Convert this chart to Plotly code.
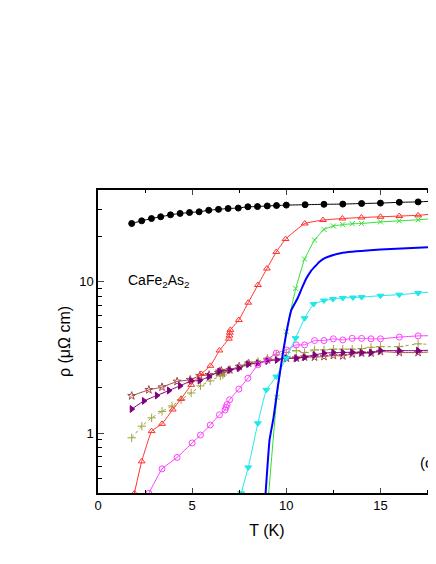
import plotly.graph_objects as go

# black, filled circles
t_black = [1.79, 2.32, 2.84, 3.33, 3.85, 4.36, 4.86, 5.37, 5.88, 6.40, 6.91, 7.45, 7.96, 8.47, 8.99, 9.48, 10.0, 11.0, 12.0, 13.0, 14.0, 15.0, 16.0, 17.0, 18.0]
r_black = [24.2, 25.2, 26.1, 26.8, 27.6, 28.2, 28.6, 28.9, 29.6, 30.0, 30.4, 30.6, 31.2, 31.3, 31.6, 31.8, 32.0, 32.2, 32.4, 32.5, 32.8, 33.0, 33.4, 33.6, 34.1]

# red, open triangles
t_red = [1.93, 2.32, 2.85, 3.40, 3.97, 4.41, 4.95, 5.48, 5.97, 6.45, 6.95, 6.98, 7.0, 7.03, 7.48, 7.98, 8.49, 8.97, 9.47, 9.96, 10.98, 11.95, 12.98, 13.99, 15.0, 16.0, 17.0, 18.0]
r_red = [0.40, 0.65, 1.03, 1.15, 1.43, 1.68, 2.08, 2.46, 2.78, 3.51, 4.2, 4.4, 4.6, 4.8, 5.58, 7.26, 9.5, 12.2, 15.7, 19.1, 24.2, 25.5, 26.1, 26.5, 26.8, 27.1, 27.4, 28.1]

# green, x markers
t_green = [9.05, 9.5, 10.0, 10.5, 10.97, 11.5, 12.0, 12.5, 13.0, 13.5, 14.0, 15.0, 16.0, 17.0, 18.0]
r_green = [0.38, 1.72, 4.67, 9.0, 14.1, 18.8, 22.1, 23.3, 23.8, 24.1, 24.2, 24.8, 25.2, 25.6, 26.2]

# blue, solid line
t_blue = [8.9, 9.11, 9.32, 9.55, 9.79, 10.0, 10.27, 10.6, 10.85, 11.06, 11.3, 11.5, 11.75, 12.04, 12.5, 13.0, 15.0, 18.0]
r_blue = [0.40, 0.90, 1.26, 2.03, 3.2, 4.56, 6.5, 7.76, 9.2, 10.5, 11.7, 12.5, 13.5, 14.3, 15.0, 15.5, 16.3, 17.0]

# cyan, filled down triangles
t_cyan = [7.6, 7.98, 8.49, 8.94, 9.47, 10.0, 10.49, 10.97, 11.45, 12.0, 12.48, 13.0, 13.54, 14.0, 15.0, 16.0, 17.0, 18.0]
r_cyan = [0.40, 0.593, 1.16, 1.93, 2.36, 3.12, 4.23, 5.73, 7.11, 7.5, 7.67, 7.8, 7.85, 7.9, 8.07, 8.2, 8.4, 8.6]

# magenta, open circles
t_mag = [2.7, 3.4, 4.2, 5.0, 5.44, 5.96, 6.45, 6.75, 6.8, 6.85, 6.99, 7.48, 7.96, 8.49, 8.99, 9.47, 10.0, 10.53, 10.97, 11.5, 12.0, 12.5, 13.0, 13.5, 14.0, 14.5, 15.0, 16.0, 17.0, 18.0]
r_mag = [0.40, 0.58, 0.69, 0.86, 0.97, 1.13, 1.32, 1.42, 1.48, 1.54, 1.66, 1.95, 2.3, 2.82, 3.04, 3.37, 3.54, 3.82, 3.82, 4.08, 4.08, 4.19, 4.12, 4.22, 4.22, 4.19, 4.19, 4.3, 4.38, 4.4]

# olive, plus markers
t_olive = [1.79, 2.33, 2.85, 3.40, 3.93, 4.41, 4.95, 5.44, 5.96, 6.5, 6.63, 6.99, 7.48, 7.98, 8.49, 8.99, 9.47, 10.0, 10.53, 10.97, 11.5, 12.0, 12.5, 13.0, 13.5, 14.0, 14.5, 15.0, 16.0, 17.0, 18.0]
r_olive = [0.93, 1.11, 1.26, 1.39, 1.51, 1.66, 1.84, 2.05, 2.21, 2.38, 2.42, 2.62, 2.71, 2.89, 2.97, 3.12, 3.28, 3.4, 3.5, 3.4, 3.54, 3.54, 3.58, 3.58, 3.58, 3.61, 3.68, 3.72, 3.72, 3.88, 3.82]

# purple, filled right triangles
t_purple = [1.79, 2.44, 3.13, 3.77, 4.36, 4.95, 5.4, 5.9, 6.45, 6.99, 7.48, 7.98, 8.49, 9.0, 9.5, 10.0, 10.53, 10.97, 11.5, 12.0, 12.5, 13.0, 13.5, 14.0, 14.5, 15.0, 16.0, 17.0, 18.0]
r_purple = [1.44, 1.63, 1.77, 1.91, 2.05, 2.21, 2.22, 2.36, 2.55, 2.61, 2.68, 2.85, 2.89, 2.99, 3.04, 3.12, 3.12, 3.17, 3.28, 3.37, 3.4, 3.4, 3.42, 3.4, 3.4, 3.5, 3.5, 3.5, 3.54]

# brown, open stars
t_brown = [1.79, 2.7, 3.4, 4.2, 4.9, 5.4, 5.9, 6.4, 6.45, 6.5, 6.55, 6.6, 7.0, 7.5, 8.0, 8.5, 9.0, 10.0, 10.53, 10.97, 11.5, 12.0, 12.5, 13.0, 13.5, 14.0, 14.5, 15.0, 16.0, 17.0, 18.0]
r_brown = [1.76, 1.93, 2.01, 2.19, 2.25, 2.39, 2.42, 2.5, 2.55, 2.52, 2.58, 2.48, 2.61, 2.75, 2.89, 2.89, 3.04, 3.12, 3.12, 3.17, 3.17, 3.2, 3.25, 3.23, 3.33, 3.37, 3.37, 3.45, 3.4, 3.4, 3.45]

fig = go.Figure()

def add(t, r, color, symbol, size=6, dash="solid", width=1, mode="lines+markers"):
    fig.add_trace(go.Scatter(x=t, y=r, mode=mode, line=dict(color=color, width=width, dash=dash, shape="spline", smoothing=0.3),
                             marker=dict(symbol=symbol, size=size, color=color, line=dict(color=color, width=1)),
                             showlegend=False))

add(t_brown, r_brown, "#a04848", "star-open", 6)
add(t_olive, r_olive, "#a0a040", "cross-thin", 6, dash="dot")
add(t_purple, r_purple, "#800080", "triangle-right", 6)
add(t_mag, r_mag, "#ff40ff", "circle-open", 6)
add(t_red, r_red, "#ff3030", "triangle-up-open", 6)
add(t_green, r_green, "#30e030", "x-thin", 5)
add(t_cyan, r_cyan, "#20e8e8", "triangle-down", 6)
add(t_blue, r_blue, "#0000ff", "circle", 1, width=2, mode="lines")
add(t_black, r_black, "#000000", "circle", 6)

font = "Liberation Sans, Arial, sans-serif"

# the page body has an 8px margin, so the figure is placed 8px in
fig.update_layout(
    width=428, height=548,
    margin=dict(l=90, r=0, t=182, b=63),
    plot_bgcolor="white", paper_bgcolor="white",
    font=dict(family=font, size=13, color="black"),
    xaxis=dict(range=[0, 17.95], showgrid=False, zeroline=False, showline=True, linecolor="black", linewidth=1.5,
               mirror="ticks", ticks="inside", ticklen=5, tickwidth=1.2, dtick=5, tick0=0,
               minor=dict(ticks="inside", ticklen=3, dtick=2.5, tickcolor="black"),
               title=dict(text="T (K)", standoff=12), tickfont=dict(size=13)),
    yaxis=dict(type="log", range=[-0.396, 1.605], showgrid=False, zeroline=False, showline=True, linecolor="black",
               linewidth=1.5, ticks="inside", ticklen=6, tickwidth=1.2, tickvals=[1, 10], ticktext=["1", "10"],
               minor=dict(ticks="inside", ticklen=4, tickvals=[0.5, 0.6, 0.7, 0.8, 0.9, 2, 3, 4, 5, 6, 7, 8, 9, 20, 30],
                          tickcolor="black"),
               title=dict(text="ρ (μΩ cm)", standoff=5), tickfont=dict(size=13)),
    annotations=[
        dict(text="CaFe<sub>2</sub>As<sub>2</sub>", xref="paper", yref="paper", x=(126 - 98) / 338, y=(493 - 281) / 303,
             xanchor="left", yanchor="middle", showarrow=False, font=dict(size=14)),
        dict(text="(c)", xref="paper", yref="paper", x=(418 - 98) / 338, y=(493 - 462) / 303,
             xanchor="left", yanchor="middle", showarrow=False, font=dict(size=15)),
    ],
)

fig.write_html("out.html")
